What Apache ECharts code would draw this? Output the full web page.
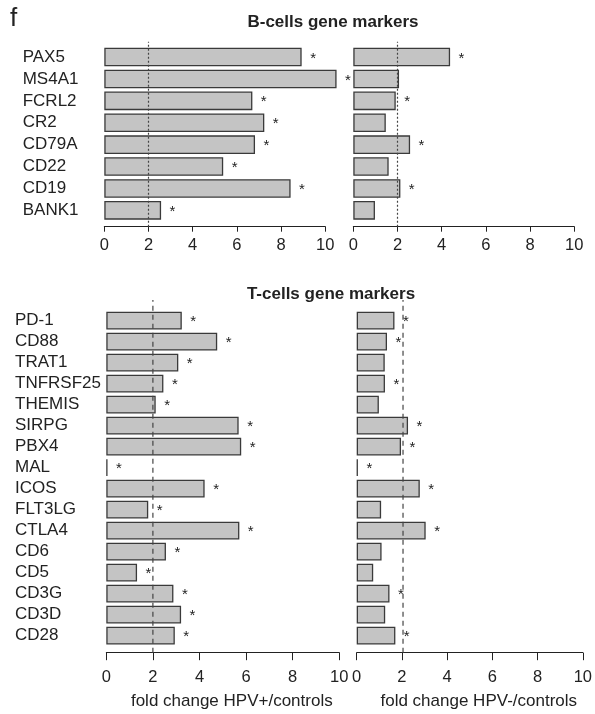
<!DOCTYPE html>
<html>
<head>
<meta charset="utf-8">
<script src="https://cdn.jsdelivr.net/npm/echarts@6/dist/echarts.min.js"></script>
<style>
html,body{margin:0;padding:0;background:#fff;}
#chart{width:595px;height:714px;}
</style>
</head>
<body>
<div id="chart"></div>
<script>
// ---- data ----
const bCategories = ['PAX5','MS4A1','FCRL2','CR2','CD79A','CD22','CD19','BANK1'];
const bHpvPos = [8.93, 10.51, 6.70, 7.24, 6.82, 5.38, 8.43, 2.57];
const bHpvNeg = [4.38, 2.07, 1.92, 1.47, 2.57, 1.60, 2.13, 0.98];
const bSigPos = [1,1,1,1,1,1,1,1];
const bSigNeg = [1,0,1,0,1,0,1,0];

const tCategories = ['PD-1','CD88','TRAT1','TNFRSF25','THEMIS','SIRPG','PBX4','MAL','ICOS','FLT3LG','CTLA4','CD6','CD5','CD3G','CD3D','CD28'];
const tHpvPos = [3.24,4.76,3.09,2.45,2.12,5.68,5.79,0.05,4.22,1.80,5.71,2.56,1.32,2.88,3.21,2.94];
const tHpvNeg = [1.67,1.34,1.24,1.25,0.98,2.27,1.96,0.05,2.79,1.08,3.05,1.10,0.73,1.45,1.26,1.71];
const tSigPos = [1,1,1,1,1,1,1,1,1,1,1,1,1,1,1,1];
const tSigNeg = [1,1,0,1,0,1,1,1,1,0,1,0,0,1,0,1];

const xMin = 0, xMax = 10, xStep = 2;
const threshold = 2;
const titleB = 'B-cells gene markers';
const titleT = 'T-cells gene markers';
const xNamePos = 'fold change HPV+/controls';
const xNameNeg = 'fold change HPV-/controls';

// ---- layout ----
const FONT = 'Liberation Sans, Arial, Helvetica, sans-serif';
const panels = [
  {grid:{left:104.3, top:46.1, width:221, height:175.2}, line:{top:41.7, bottom:226.7}, cats:bCategories, vals:bHpvPos, sig:bSigPos, labels:true, margin:81.6, offset:5.4, tick:5, lblMargin:10, name:'', dash:[2,2]},
  {grid:{left:353.3, top:46.1, width:221, height:175.2}, line:{top:41.7, bottom:226.7}, cats:bCategories, vals:bHpvNeg, sig:bSigNeg, labels:false, margin:0, offset:5.4, tick:5, lblMargin:10, name:'', dash:[2,2]},
  {grid:{left:106.3, top:310.1, width:233, height:336}, line:{top:300, bottom:652.7}, cats:tCategories, vals:tHpvPos, sig:tSigPos, labels:true, margin:91.3, offset:6.6, tick:7.5, lblMargin:16.5, name:xNamePos, dash:[5,4]},
  {grid:{left:356.7, top:310.1, width:231.6, height:336}, line:{top:300, bottom:652.7}, cats:tCategories, vals:tHpvNeg, sig:tSigNeg, labels:false, margin:0, offset:6.6, tick:7.5, lblMargin:16.5, name:xNameNeg, dash:[5,4]}
];

const grid = [], xAxis = [], yAxis = [], series = [];
panels.forEach((p, i) => {
  grid.push(Object.assign({containLabel:false}, p.grid));
  xAxis.push({
    type:'value', gridIndex:i, min:xMin, max:xMax, interval:xStep, position:'bottom', offset:p.offset,
    axisLine:{show:true, lineStyle:{color:'#222', width:1}},
    axisTick:{show:true, length:p.tick, lineStyle:{color:'#222', width:1}},
    axisLabel:{fontFamily:FONT, fontSize:16.5, color:'#222', margin:p.lblMargin},
    splitLine:{show:false},
    name:p.name, nameLocation:'middle', nameGap:40,
    nameTextStyle:{fontFamily:FONT, fontSize:17, color:'#222', padding:[0,0,0,18]}
  });
  yAxis.push({
    type:'category', gridIndex:i, data:p.cats, inverse:true,
    axisLine:{show:false}, axisTick:{show:false}, splitLine:{show:false},
    axisLabel:{show:p.labels, interval:0, align:'left', margin:p.margin, fontFamily:FONT, fontSize:17, color:'#222'}
  });
  const sig = p.sig;
  series.push({
    type:'bar', xAxisIndex:i, yAxisIndex:i, data:p.vals, clip:false,
    barCategoryGap:'15%',
    itemStyle:{color:'#c4c4c4', borderColor:'#3a3a3a', borderWidth:1.3},
    label:{show:true, position:'right', distance:8.5, fontFamily:FONT, fontSize:15, color:'#222', offset:[0,1.5],
      formatter: prm => sig[prm.dataIndex] ? '*' : ''},
    silent:true, z:2
  });
});
// overlay grids for threshold lines
panels.forEach((p, i) => {
  const gi = panels.length + i;
  grid.push({left:p.grid.left, width:p.grid.width, top:p.line.top, height:p.line.bottom - p.line.top});
  xAxis.push({type:'value', gridIndex:gi, min:xMin, max:xMax, show:false});
  yAxis.push({type:'value', gridIndex:gi, min:0, max:1, show:false});
  series.push({
    type:'line', xAxisIndex:gi, yAxisIndex:gi, data:[[threshold,0],[threshold,1]],
    symbol:'none', silent:true, z:5,
    lineStyle:{color:'#444', width:1.2, type:p.dash}
  });
});

const chart = echarts.init(document.getElementById('chart'), null, {renderer:'canvas'});
chart.setOption({
  backgroundColor:'#fff',
  animation:false,
  grid, xAxis, yAxis, series,
  graphic:[
    {type:'text', left:10, top:6, style:{text:'f', fontFamily:FONT, fontSize:26, fill:'#222'}},
    {type:'text', x:333, y:22, style:{text:titleB, fontFamily:FONT, fontSize:17, fontWeight:'bold', fill:'#222', textAlign:'center', textVerticalAlign:'middle'}},
    {type:'text', x:331, y:294, style:{text:titleT, fontFamily:FONT, fontSize:17, fontWeight:'bold', fill:'#222', textAlign:'center', textVerticalAlign:'middle'}}
  ]
});
</script>
</body>
</html>
